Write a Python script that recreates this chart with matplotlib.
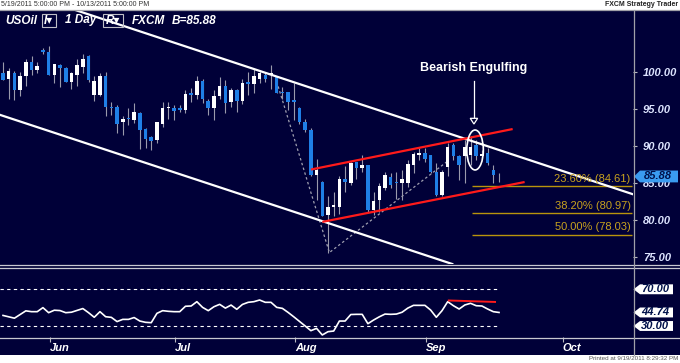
import numpy as np
import pandas as pd
import matplotlib
matplotlib.use("Agg")
import matplotlib.pyplot as plt
from matplotlib.patches import Rectangle, Polygon, Ellipse
from matplotlib.lines import Line2D

plt.rcParams['font.family'] = ['Liberation Sans', 'DejaVu Sans']

# === DATA (USOil daily) ===
dates = pd.bdate_range('2011-05-19', '2011-09-19')

opens = [99.9, 99.0, 99.8, 97.5, 99.4, 101.3, 100.3, 103.0, 102.7, 99.6,
         100.9, 100.6, 98.7, 99.6, 100.7, 102.1, 96.9, 96.9, 99.5, 95.3,
         95.3, 93.2, 93.8, 93.5, 94.5, 92.3, 91.2, 90.8, 93.0, 95.1,
         95.1, 95.1, 94.9, 97.1, 96.9, 98.8, 96.1, 95.1, 96.7, 98.1,
         95.9, 97.5, 96.1, 98.6, 98.4, 99.1, 99.6, 99.6, 99.3, 97.3,
         97.3, 96.2, 95.1, 93.3, 92.2, 86.1, 85.2, 80.7, 81.7, 81.8,
         85.6, 85.0, 87.8, 87.0, 87.4, 81.4, 82.7, 84.3, 85.8, 85.2,
         85.0, 85.0, 87.4, 88.8, 89.0, 88.8, 86.5, 83.4, 87.2, 90.1,
         88.6, 88.6, 88.8, 90.1, 88.7, 89.0, 86.8, 85.95]
highs = [101.4, 100.5, 100.2, 100.0, 101.7, 102.1, 101.3, 103.3, 103.5, 101.1,
         101.1, 100.7, 100.0, 101.8, 102.5, 102.3, 99.5, 99.8, 100.0, 95.9,
         95.6, 94.1, 95.1, 95.8, 94.6, 92.4, 91.3, 93.3, 95.9, 96.0,
         95.5, 95.5, 97.6, 97.8, 99.4, 99.1, 96.4, 97.6, 99.3, 98.9,
         97.8, 97.7, 99.0, 100.0, 100.5, 100.3, 99.8, 100.9, 99.3, 98.0,
         97.3, 98.5, 95.3, 93.7, 92.4, 88.2, 85.3, 83.2, 83.8, 85.9,
         87.3, 87.9, 87.9, 88.8, 87.4, 83.8, 85.0, 86.5, 86.3, 86.5,
         86.8, 88.1, 89.2, 89.7, 89.7, 88.8, 87.7, 86.8, 90.4, 90.4,
         88.8, 90.8, 91.3, 90.8, 89.4, 89.7, 87.4, 86.3]
lows = [98.9, 96.4, 96.2, 96.7, 98.1, 99.6, 99.9, 102.4, 99.6, 98.5,
        98.0, 98.6, 97.7, 98.1, 99.8, 98.6, 96.1, 96.7, 94.1, 94.2,
        91.8, 91.5, 92.8, 93.1, 89.6, 89.7, 89.5, 90.4, 92.5, 93.7,
        93.5, 94.6, 94.4, 95.9, 96.4, 95.8, 94.2, 93.5, 96.4, 94.5,
        95.3, 94.6, 95.7, 96.9, 97.2, 98.5, 98.6, 97.7, 97.1, 96.4,
        94.9, 93.5, 93.0, 91.9, 86.0, 82.7, 80.5, 75.5, 80.5, 80.8,
        83.8, 84.7, 85.6, 86.5, 81.1, 80.7, 81.1, 84.0, 84.3, 82.9,
        82.7, 84.5, 86.3, 88.1, 87.9, 86.3, 83.2, 83.2, 85.9, 88.1,
        85.4, 85.0, 87.4, 88.1, 88.2, 87.4, 85.0, 85.2]
closes = [98.9, 100.1, 97.5, 99.5, 101.3, 100.3, 100.8, 102.7, 99.6, 101.1,
          100.5, 98.7, 99.8, 100.9, 101.8, 98.9, 98.8, 99.5, 95.3, 95.1,
          93.0, 93.7, 93.6, 94.6, 92.2, 91.0, 90.7, 93.2, 95.2, 95.3,
          94.7, 94.9, 97.0, 96.9, 98.8, 96.3, 95.1, 96.8, 98.1, 95.8,
          97.5, 96.1, 98.5, 98.4, 99.4, 99.9, 99.1, 99.9, 97.1, 97.1,
          95.9, 96.0, 93.2, 92.1, 86.1, 86.8, 80.6, 81.8, 82.0, 85.6,
          85.2, 87.7, 87.0, 87.4, 81.4, 82.5, 84.6, 86.1, 84.7, 85.0,
          85.5, 87.6, 88.9, 89.0, 88.3, 86.5, 83.4, 86.5, 89.9, 88.6,
          87.4, 89.9, 89.9, 88.6, 88.9, 87.7, 86.1, 85.88]
rsi = [41.5, 40.0, 38.5, 42.5, 46.5, 45.6, 45.6, 50.0, 44.5, 47.2,
       46.8, 44.5, 45.0, 47.0, 49.0, 44.5, 39.5, 45.6, 40.1, 39.4,
       34.8, 37.2, 37.2, 39.2, 35.4, 34.0, 33.6, 43.8, 46.7, 46.0,
       45.6, 45.6, 51.5, 51.8, 56.5, 50.3, 46.7, 51.0, 53.6, 49.5,
       52.8, 48.2, 53.5, 55.8, 56.5, 58.3, 55.8, 55.8, 50.3, 49.2,
       44.8, 40.0, 35.0, 30.0, 24.9, 27.4, 20.2, 23.8, 24.5, 35.4,
       35.4, 42.5, 42.7, 42.7, 32.5, 36.5, 40.0, 43.0, 42.7, 43.0,
       45.0, 49.5, 52.5, 52.5, 52.5, 47.4, 39.5, 46.7, 56.5, 52.1,
       48.5, 52.9, 54.7, 52.1, 51.8, 48.5, 45.6, 44.74]

last_price = 85.88
last_rsi = 44.74
fib_levels = [84.61, 80.97, 78.03]
fib_labels = ['23.60% (84.61)', '38.20% (80.97)', '50.00% (78.03)']
price_ticks = [75, 80, 85, 90, 95, 100]
month_labels = ['Jun', 'Jul', 'Aug', 'Sep', 'Oct']

# drawings (bar index, price)
upper_channel = ([12.6, 110.4], [108.4, 83.5])
lower_channel = ([-0.5, 78.8], [94.2, 74.05])
red_top = ([54.2, 89.2], [86.85, 92.26])
red_bottom = ([56.2, 91.3], [79.77, 85.1])
zigzag = ([48.0, 57.25, 77.9], [98.7, 75.6, 87.9])
rsi_red = ([78.2, 86.3], [57.8, 56.2])

# === STYLE ===
W, H = 680, 363
NAVY = '#000038'
BLUE = '#1f7fe6'
WICK = '#9a9aac'
GOLD = '#c8a21e'
LABEL = '#dde4ff'
GRID = '#b8b8c0'

fig = plt.figure(figsize=(6.8, 3.63), dpi=100)
fig.patch.set_facecolor('white')


def fx(x):
    return x / W


def fy(y):
    return 1 - y / H


# navy body of the terminal window
fig.add_artist(Rectangle((0, fy(355)), 1, (355 - 10) / H, transform=fig.transFigure,
                         facecolor=NAVY, edgecolor='none', zorder=0))

ax = fig.add_axes([0, fy(264), 633 / W, (264 - 10) / H])
axr = fig.add_axes([0, fy(337), 633 / W, (337 - 268) / H])
for a in (ax, axr):
    a.set_facecolor(NAVY)
    for s in a.spines.values():
        s.set_visible(False)
    a.set_xlim(-0.53, 110.5)

x = np.arange(len(dates))
o, h, l, c = map(np.array, (opens, highs, lows, closes))

# === PRICE PANEL ===
ax.vlines(x, l, h, color=WICK, lw=0.8, zorder=3)
up = c >= o
body = np.maximum(np.abs(c - o), 0.12)
ax.bar(x, body, bottom=np.minimum(o, c), width=0.62,
       color=np.where(up, 'white', BLUE), edgecolor='none', zorder=4)

ax.plot(*upper_channel, color='white', lw=1.6, zorder=5)
ax.plot(*lower_channel, color='white', lw=1.6, zorder=5)
ax.plot(*red_top, color='#ff1a1a', lw=1.6, zorder=5)
ax.plot(*red_bottom, color='#ff1a1a', lw=1.6, zorder=5)
ax.plot(*zigzag, color='#a0a0b0', lw=0.9, ls=(0, (2, 2)), zorder=2)

ax.hlines(fib_levels, 82.2, 110.3, color='#b8940c', lw=1, zorder=2)
for lev, lab in zip(fib_levels, fib_labels):
    ax.text(110.1, lev + 0.3, lab, ha='right', va='bottom', color=GOLD,
            fontsize=8, zorder=6)

# bearish engulfing annotation
ax.add_patch(Ellipse((82.8, 89.46), 2.9, 5.4, fill=False, ec='white', lw=1.2, zorder=6))
ax.plot([82.6, 82.6], [98.8, 93.74], color='white', lw=0.9, zorder=6)
ax.add_patch(Polygon([(81.95, 93.74), (83.25, 93.74), (82.6, 92.97)], closed=True,
                     fc=NAVY, ec='white', lw=0.9, zorder=6))
ax.text(82.6, 100.5, 'Bearish Engulfing', ha='center', va='center', color='white',
        fontsize=9, fontweight='bold', zorder=6)

ax.set_ylim(74.05, 108.38)
ax.set_xticks([])
ax.yaxis.tick_right()
ax.set_yticks(price_ticks)
ax.set_yticklabels([f'{v:.2f}' for v in price_ticks])
ax.tick_params(axis='y', direction='out', length=3, color=GRID, labelcolor=LABEL,
               labelsize=8, pad=4)
for t in ax.get_yticklabels():
    t.set_fontstyle('italic')
    t.set_fontweight('bold')


def tag(a, val, txt, fc, tc, half, x0=634, x1=640, x2=678):
    tr = a.get_yaxis_transform()
    pts = [(x0 / 633, val), (x1 / 633, val + half), (x2 / 633, val + half),
           (x2 / 633, val - half), (x1 / 633, val - half)]
    a.add_patch(Polygon(pts, closed=True, fc=fc, ec='none', transform=tr,
                        clip_on=False, zorder=10))
    a.text((x1 + x2) / 2 / 633 - 0.002, val, txt, transform=tr, ha='center', va='center',
           color=tc, fontsize=8, fontstyle='italic', fontweight='bold',
           clip_on=False, zorder=11)


tag(ax, last_price, f'{last_price:.2f}', '#3a9bf0', '#00104a', 0.8)

# === RSI PANEL ===
axr.plot(x, rsi, color='white', lw=1.2, zorder=3)
axr.hlines([70, 30], -0.53, 86.7, colors='white', lw=0.8, linestyles=(0, (3, 3)), zorder=2)
axr.plot(*rsi_red, color='#ff1a1a', lw=1.4, zorder=4)
axr.set_ylim(18, 93.2)
axr.set_yticks([])
for v, txt in ((70, '70.00'), (last_rsi, f'{last_rsi:.2f}'), (30, '30.00')):
    tag(axr, v, txt, 'white', '#00104a', 5.4, x0=633.5, x1=640, x2=673)

month_idx = [int(np.argmax(dates.month == m)) for m in (6, 7, 8, 9)]
oct_idx = len(dates) - 1 + (pd.Timestamp('2011-10-01') - dates[-1]).days
tick_pos = np.array(month_idx + [oct_idx]) - 0.8
axr.set_xticks(tick_pos)
axr.set_xticklabels(month_labels)
axr.tick_params(axis='x', direction='out', length=3.5, color=GRID, labelcolor='white',
                labelsize=8, pad=1)
for t in axr.get_xticklabels():
    t.set_ha('left')
    t.set_fontstyle('italic')
    t.set_fontweight('bold')

# === FRAME LINES ===
for yy in (9.5, 264.5, 267.5, 337.5):
    fig.add_artist(Line2D([0, 1], [fy(yy), fy(yy)], transform=fig.transFigure,
                          color='#a0a0a8' if yy == 9.5 else '#c8c8d0', lw=0.9, zorder=20))
fig.add_artist(Line2D([fx(633.5), fx(633.5)], [fy(10), fy(355)], transform=fig.transFigure,
                      color='#a0a0a8', lw=0.9, zorder=20))

# === HEADER / FOOTER TEXT ===
fig.text(fx(1), fy(4.5), '5/19/2011 5:00:00 PM - 10/13/2011 5:00:00 PM', fontsize=5,
         va='center', ha='left', color='#333333')
fig.text(fx(678), fy(4.5), 'FXCM Strategy Trader', fontsize=5, fontweight='bold',
         va='center', ha='right', color='#222222')
fig.text(fx(678), fy(359), 'Printed at 9/19/2011 8:29:32 PM', fontsize=4.5,
         va='center', ha='right', color='#555555')

hdr = dict(fontsize=8.5, fontstyle='italic', fontweight='bold', color='white',
           va='center', ha='left', zorder=21)
fig.text(fx(5), fy(20.5), 'USOil', **hdr)
fig.text(fx(44), fy(20.5), 'I\u25be', **hdr)
fig.text(fx(65), fy(20.5), '1 Day', **hdr)
fig.text(fx(106), fy(20.5), 'R\u25be', **hdr)
fig.text(fx(132), fy(20.5), 'FXCM', **hdr)
fig.text(fx(172), fy(20.5), 'B=85.88', **hdr)
for x0, x1 in ((41.5, 55.5), (103, 123)):
    fig.add_artist(Rectangle((fx(x0), fy(27)), (x1 - x0) / W, 13 / H, transform=fig.transFigure,
                             fill=False, ec='#c0c0c8', lw=0.8, zorder=21))

fig.savefig('out.png', dpi=100, facecolor=fig.get_facecolor())
